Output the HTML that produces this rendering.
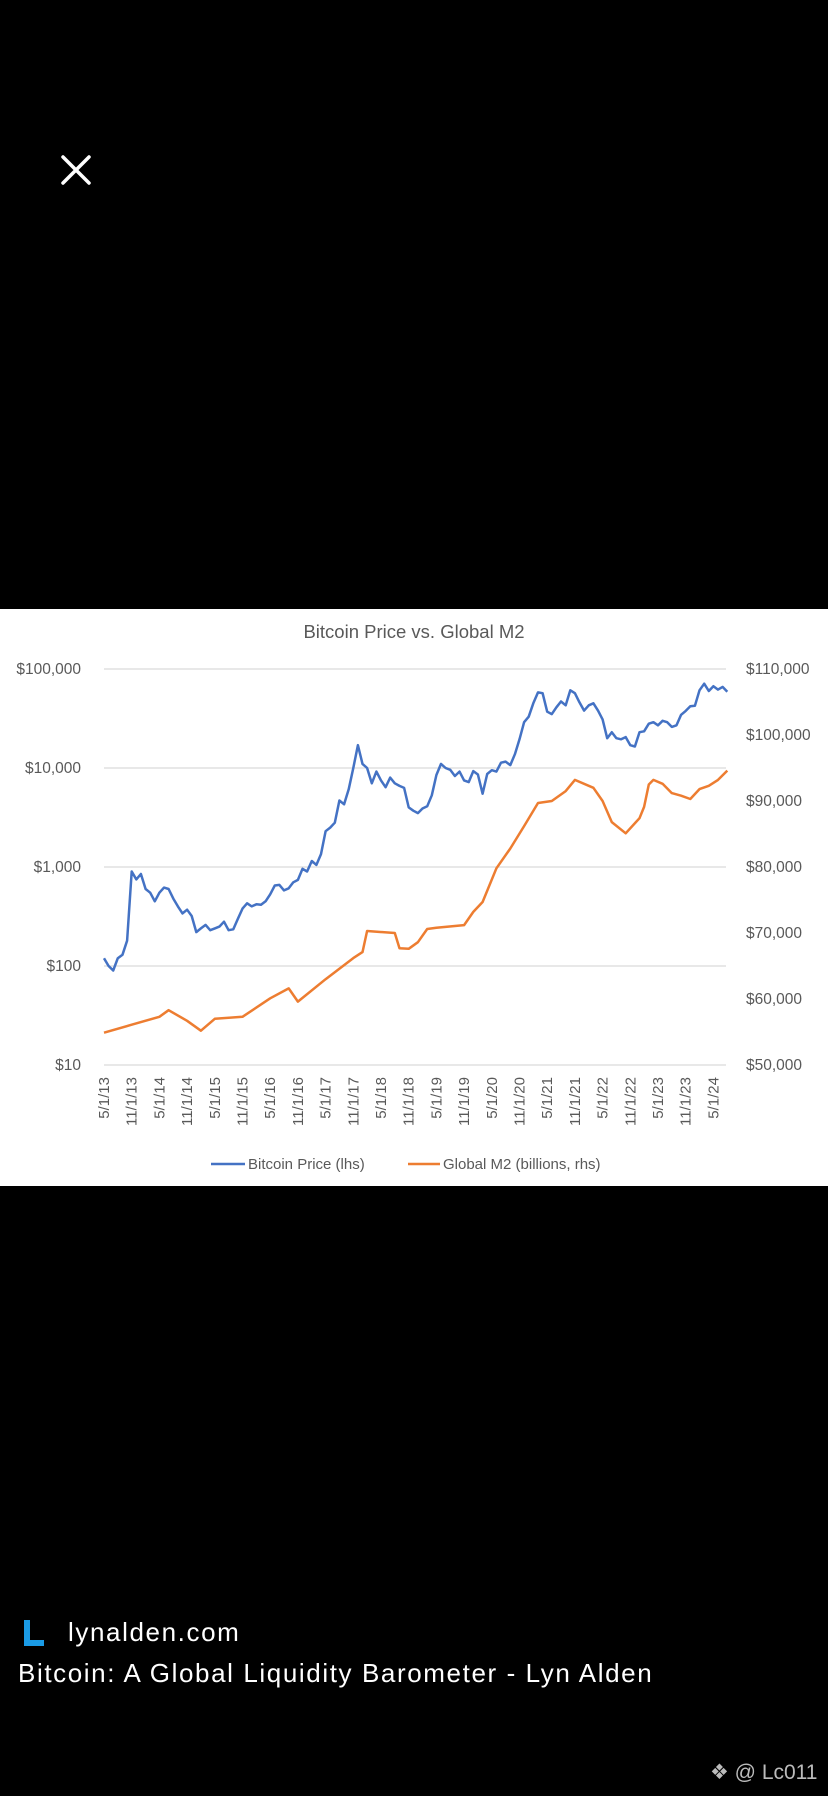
<!DOCTYPE html>
<html><head><meta charset="utf-8">
<style>
html,body{margin:0;padding:0;background:#000;width:828px;height:1796px;overflow:hidden;font-family:"Liberation Sans",sans-serif}
#chart{position:absolute;left:0;top:609px;width:828px;height:577px;background:#fff}
.t{position:absolute;color:#fff;white-space:nowrap}
</style></head><body>
<svg style="position:absolute;left:60px;top:154px" width="32" height="32"><path d="M3 3L29 29M29 3L3 29" stroke="#fff" stroke-width="3.5" stroke-linecap="round"/></svg>

<svg id="chart" width="828" height="577" viewBox="0 609 828 577" font-family="Liberation Sans, sans-serif"></svg>

<svg style="position:absolute;left:22px;top:1618px" width="24" height="30"><path d="M2 2h6v20h14v6H2z" fill="#1a9be6"/></svg>
<div class="t" style="left:68px;top:1617px;font-size:26px;line-height:30px;letter-spacing:1.6px">lynalden.com</div>
<div class="t" style="left:18px;top:1657px;font-size:26px;line-height:32px;letter-spacing:1.6px">Bitcoin: A Global Liquidity Barometer - Lyn Alden</div>
<div class="t" style="left:710px;top:1759px;font-size:21px;line-height:28px;color:#bbb">❖ @ Lc011</div>

<script>
const xLabels=["5/1/13","11/1/13","5/1/14","11/1/14","5/1/15","11/1/15","5/1/16","11/1/16","5/1/17","11/1/17","5/1/18","11/1/18","5/1/19","11/1/19","5/1/20","11/1/20","5/1/21","11/1/21","5/1/22","11/1/22","5/1/23","11/1/23","5/1/24"];
const leftTicks=[10,100,1000,10000,100000];
const leftTickLabels=["$10","$100","$1,000","$10,000","$100,000"];
const rightTicks=[50000,60000,70000,80000,90000,100000,110000];
const rightTickLabels=["$50,000","$60,000","$70,000","$80,000","$90,000","$100,000","$110,000"];
// Bitcoin monthly, starting May 2013
const btcValues=[120,100,90,120,130,180,900,750,850,600,550,450,550,620,600,480,400,340,370,320,220,240,260,230,240,250,280,230,235,300,380,430,400,420,415,450,530,650,660,580,610,700,740,960,900,1150,1050,1350,2300,2500,2800,4700,4300,6100,10000,17000,11000,10000,7000,9200,7500,6400,8000,7000,6600,6300,4000,3700,3500,3900,4100,5300,8500,11000,10000,9600,8300,9200,7500,7200,9300,8600,5500,8700,9500,9200,11300,11600,10700,13800,19500,29000,33000,45000,58000,57000,37000,35000,41000,47000,43000,61000,57000,46000,38000,43000,45000,38000,31000,20000,23000,20000,19500,20500,17000,16500,23000,23500,28000,29000,27000,30000,29000,26000,27000,34500,37700,42000,42500,61000,71000,60000,67000,62000,66000,59000];
// Global M2: months since May 2013 and values (billions)
const m2Months=[0,6,12,14,18,21,24,30,36,40,42,48,54,56,57,63,64,66,68,70,72,78,80,82,85,88,91,94,97,100,102,106,108,110,113,116,117,118,119,121,123,125,127,129,131,133,135];
const m2Values=[54900,56100,57300,58300,56700,55200,57000,57300,60100,61600,59600,63000,66200,67100,70300,70000,67700,67600,68600,70600,70800,71200,73200,74700,79800,82800,86200,89700,90000,91500,93200,92000,90000,86800,85100,87400,89100,92500,93200,92600,91200,90800,90300,91800,92300,93200,94600];

const svg=document.getElementById('chart');
const NS='http://www.w3.org/2000/svg';
const x0=104,dxMonth=27.7/6;
const xM=m=>x0+m*dxMonth;
const yL=v=>669+(5-Math.log10(v))*99;
const yR=v=>669+(110000-v)/1000*6.6;
function mk(tag,attrs,parent){const e=document.createElementNS(NS,tag);for(const k in attrs)e.setAttribute(k,attrs[k]);(parent||svg).appendChild(e);return e;}

const title=mk('text',{x:414,y:638,'text-anchor':'middle','font-size':18.5,fill:'#595959'});
title.textContent='Bitcoin Price vs. Global M2';



leftTicks.forEach((v,i)=>{
  const g=mk('line',{x1:104,x2:726,y1:yL(v),y2:yL(v),stroke:'#d9d9d9','stroke-width':1.2});
  
  
  const t=mk('text',{x:81,y:yL(v)+5,'text-anchor':'end','font-size':15.5,fill:'#595959'});
  t.textContent=leftTickLabels[i];
  
  
});
rightTicks.forEach((v,i)=>{
  const t=mk('text',{x:746,y:yR(v)+5,'text-anchor':'start','font-size':15.5,fill:'#595959'});
  t.textContent=rightTickLabels[i];
  
  
});
xLabels.forEach((l,i)=>{
  const x=xM(i*6)+5;
  const t=mk('text',{x:x,y:1077,'text-anchor':'end','font-size':15,fill:'#595959',transform:`rotate(-90 ${x} 1077)`});
  t.textContent=l;
  
  
});

let d='';
btcValues.forEach((v,i)=>{d+=(i?'L':'M')+xM(i).toFixed(1)+' '+yL(v).toFixed(1);});
const bl=mk('path',{d:d,fill:'none',stroke:'#4472c4','stroke-width':2.5,'stroke-linejoin':'round'});



d='';
m2Values.forEach((v,i)=>{d+=(i?'L':'M')+xM(m2Months[i]).toFixed(1)+' '+yR(v).toFixed(1);});
const ol=mk('path',{d:d,fill:'none',stroke:'#ed7d31','stroke-width':2.5,'stroke-linejoin':'round'});



const lg1=mk('g',{});


mk('line',{x1:211,x2:245,y1:1164,y2:1164,stroke:'#4472c4','stroke-width':2.5},lg1);
mk('text',{x:248,y:1169,'font-size':15,fill:'#595959'},lg1).textContent='Bitcoin Price (lhs)';
const lg2=mk('g',{});


mk('line',{x1:408,x2:440,y1:1164,y2:1164,stroke:'#ed7d31','stroke-width':2.5},lg2);
mk('text',{x:443,y:1169,'font-size':15,fill:'#595959'},lg2).textContent='Global M2 (billions, rhs)';
</script>
</body></html>
